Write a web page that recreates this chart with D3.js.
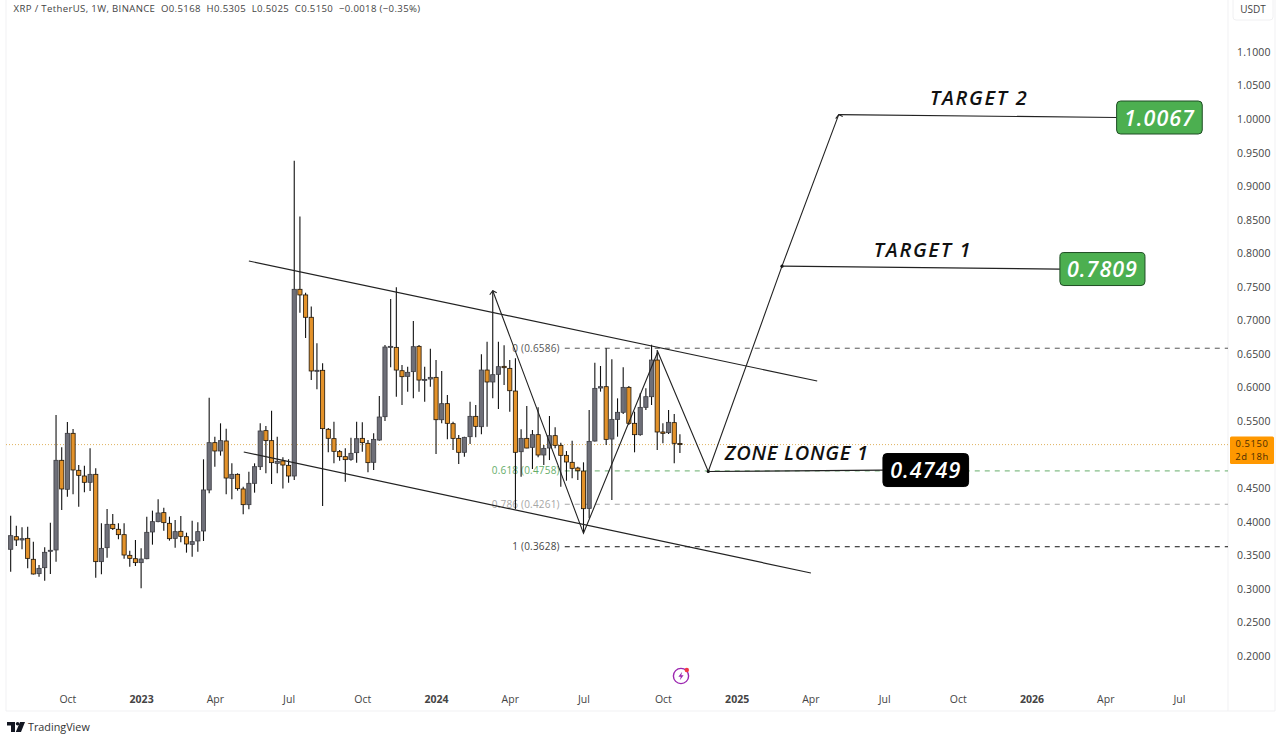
<!DOCTYPE html>
<html>
<head>
<meta charset="utf-8">
<script src="https://d3js.org/d3.v7.min.js"></script>
<style>
  html, body { margin: 0; padding: 0; background: #fff; }
  svg { display: block; }
  text { font-family: "Open Sans", "Noto Sans", sans-serif; }
  .tick line { display: none; }
  .domain { display: none; }
</style>
</head>
<body>
<div id="chart"></div>
<script>
// weekly candles
var opens = [.3590,.3778,.3729,.3753,.3441,.3227,.3316,.3560,.3580,.4916,.4484,.5318,.4767,.4682,.4588,.4707,.3406,.3614,.3962,.3888,
  .3808,.3500,.3450,.3391,.3450,.3848,.4002,.4136,.3977,.3753,.3858,.3778,.3664,.3714,.3863,.4474,.5179,.5055,.5204,.4647,
  .4707,.4489,.4255,.4573,.4821,.5358,.5209,.4871,.4906,.4841,.4682,.7464,.7380,.7047,.6242,.6257,.5378,.5239,.5045,.4970,
  .4930,.5030,.5243,.5169,.4886,.5218,.5566,.6604,.6599,.6251,.6167,.6237,.6614,.6112,.6127,.6152,.5521,.5760,.5462,.5243,
  .5035,.5268,.5571,.5417,.6261,.6083,.6197,.6316,.6286,.5948,.5044,.5243,.5109,.5298,.4995,.5099,.5283,.5139,.4990,.4886,
  .4801,.4756,.4200,.5203,.5993,.6013,.5233,.5526,.5631,.6003,.5467,.5298,.5705,.5864,.6410,.5338,.5328,.5477,.5168];
var closes = [.3793,.3729,.3748,.3455,.3222,.3306,.3545,.3575,.4916,.4489,.5318,.4772,.4692,.4588,.4707,.3406,.3604,.3962,.3898,.3808,
  .3505,.3455,.3391,.3445,.3843,.4002,.4131,.3987,.3748,.3853,.3783,.3669,.3704,.3853,.4474,.5179,.5055,.5209,.4652,.4707,
  .4494,.4255,.4573,.4821,.5353,.5209,.4881,.4901,.4846,.4682,.7464,.7380,.7047,.6247,.6257,.5388,.5244,.5050,.4970,.4926,
  .5020,.5238,.5179,.4881,.5228,.5561,.6604,.6614,.6261,.6162,.6227,.6609,.6112,.6122,.6152,.5521,.5760,.5467,.5243,.5035,
  .5258,.5571,.5422,.6261,.6083,.6192,.6311,.6296,.5953,.5035,.5243,.5099,.5298,.4995,.5094,.5283,.5139,.4990,.4891,.4796,
  .4761,.4195,.5198,.5988,.6013,.5228,.5526,.5631,.6003,.5467,.5298,.5705,.5864,.6410,.5338,.5318,.5482,.5169,.5150];
var highs = [.4091,.3942,.3917,.3927,.3704,.3356,.3619,.3987,.5591,.5109,.5487,.5383,.4846,.4836,.5095,.4796,.3977,.4191,.4116,.3977,
  .3977,.3570,.3729,.3604,.4076,.4166,.4335,.4210,.4076,.4027,.4086,.3838,.4017,.3992,.4931,.5849,.5268,.5467,.5388,.4871,
  .4722,.4523,.4747,.4871,.5467,.5427,.5656,.5268,.4960,.4931,.9381,.8547,.7414,.7206,.6659,.6361,.5398,.5492,.5070,.5095,
  .5253,.5492,.5482,.5218,.5318,.5874,.6634,.7319,.7493,.6336,.6311,.6992,.6634,.6311,.6579,.6410,.6246,.5889,.5492,.5293,
  .5268,.5790,.5740,.6495,.6684,.7444,.6684,.6629,.6410,.6435,.5377,.5725,.5367,.5705,.5144,.5576,.5407,.5179,.5054,.5208,
  .4821,.4886,.5665,.6371,.6321,.6584,.6420,.5839,.6301,.6023,.5641,.5914,.5988,.6639,.6559,.5467,.5665,.5606,.5305];
var lows = [.3257,.3639,.3590,.3306,.3215,.3182,.3123,.3222,.3406,.4176,.4374,.4409,.4225,.4439,.4459,.3167,.3217,.3465,.3878,.3739,
  .3450,.3331,.3341,.3008,.3441,.3659,.3992,.3868,.3719,.3614,.3694,.3540,.3480,.3555,.3714,.4424,.4821,.4985,.4409,.4335,
  .4464,.4111,.4186,.4434,.4772,.4722,.4563,.4722,.4494,.4583,.4623,.7116,.6739,.6113,.5974,.4235,.5035,.4871,.4911,.4598,
  .4910,.4881,.5044,.4737,.4771,.5208,.5501,.6301,.5864,.5740,.5939,.5839,.5939,.5790,.6013,.5010,.5467,.5228,.5069,.4861,
  .4970,.5159,.5258,.5303,.5417,.5839,.5680,.6038,.5641,.4185,.4672,.5094,.4786,.4960,.4846,.4920,.5094,.4523,.4612,.4647,
  .4622,.3828,.4051,.5198,.5939,.5144,.4324,.5268,.5606,.5442,.5035,.5283,.5665,.5740,.5069,.5169,.5308,.4871,.5025];

// 0.5000 sits behind the price tag in the picture, so it is left out
var priceTicks = [1.1,1.05,1,.95,.9,.85,.8,.75,.7,.65,.6,.55,.45,.4,.35,.3,.25,.2];
var weekTicks = [10,23,36,49,62,75,88,101,115,128,141,154,167,180,193,206];
var weekLabels = ["Oct","2023","Apr","Jul","Oct","2024","Apr","Jul","Oct","2025","Apr","Jul","Oct","2026","Apr","Jul"];

var lastPrice = .5150;

// channel lines: week, price
var upperWeeks = [42, 142.2], upperPrices = [.7886, .6098];
var lowerWeeks = [41.1, 141.1], lowerPrices = [.5040, .3237];

// projected zigzag
var zigWeeks = [85, 101, 114.1, 123, 136, 146];
var zigPrices = [.7443, .3828, .6534, .4749, .7809, 1.0067];

// fib retracement
var fibNames = ["0", "0.618", "0.786", "1"];
var fibPrices = [.6586, .4758, .4261, .3628];
var fibColors = ["#555555", "#66ad6a", "#a6a6a6", "#111111"];
var fibStartWeek = 97.7;

// target boxes
var boxTexts = ["1.0067", "0.7809", "0.4749"];
var boxFrom = [146, 136, 123];
var boxStartWeeks = [195, 185, 153.8];
var boxEndWeeks = [210.1, 200, 168.9];
var boxPrices = [1.0024, .7766, .4771];

var noteTexts = ["TARGET 2", "TARGET 1", "ZONE LONGE 1"];
var noteWeeks = [162.1, 152.2, 125.9];
var notePrices = [1.0210, .7945, .4921];

var width = 1280, height = 742;
var plotLeft = 6, plotRight = 1228, plotBottom = 711;

var x = d3.scaleLinear().domain([0, 206]).range([10.67, 1179]);
var y = d3.scaleLinear().domain([1.1, .2]).range([52, 656]);

var svg = d3.select("#chart").append("svg")
  .attr("width", width)
  .attr("height", height);

// frame
svg.append("path")
  .attr("d", "M" + plotLeft + ",0V" + plotBottom + "H1275")
  .attr("fill", "none").attr("stroke", "#f1f1f3");
svg.append("line")
  .attr("x1", plotRight).attr("x2", plotRight)
  .attr("y1", 0).attr("y2", plotBottom)
  .attr("stroke", "#f1f1f3");
svg.append("line")
  .attr("x1", 1275).attr("x2", 1275)
  .attr("y1", 0).attr("y2", plotBottom)
  .attr("stroke", "#f1f1f3");

// last price line
svg.append("line")
  .attr("x1", plotLeft).attr("x2", plotRight)
  .attr("y1", y(lastPrice)).attr("y2", y(lastPrice))
  .attr("stroke", "#e0b25e").attr("stroke-width", 1)
  .attr("stroke-dasharray", "1 2");

// fib levels
fibPrices.forEach(function(p, i) {
  svg.append("line")
    .attr("x1", x(fibStartWeek)).attr("x2", plotRight)
    .attr("y1", y(p)).attr("y2", y(p))
    .attr("stroke", fibColors[i]).attr("stroke-width", 1)
    .attr("stroke-dasharray", "5 5");
  svg.append("text")
    .attr("x", x(fibStartWeek) - 5)
    .attr("y", y(p) + 3.5)
    .attr("text-anchor", "end")
    .attr("font-size", 10)
    .attr("letter-spacing", .2)
    .attr("fill", fibColors[i] == "#111111" ? "#444" : fibColors[i])
    .text(fibNames[i] + " (" + p.toFixed(4) + ")");
});

// candles
var candles = svg.append("g");
opens.forEach(function(o, i) {
  var c = closes[i], up = c >= o;
  candles.append("line")
    .attr("x1", x(i)).attr("x2", x(i))
    .attr("y1", y(highs[i])).attr("y2", y(lows[i]))
    .attr("stroke", "#111").attr("stroke-width", 1.1);
  candles.append("rect")
    .attr("x", x(i) - 2.1)
    .attr("width", 4.2)
    .attr("y", y(Math.max(o, c)))
    .attr("height", Math.max(1, Math.abs(y(o) - y(c))))
    .attr("fill", up ? "#6e6f78" : "#e3922a")
    .attr("stroke", up ? "#3c3c42" : "#1d1408")
    .attr("stroke-width", .8);
});

var line = d3.line()
  .x(function(d) { return x(d[0]); })
  .y(function(d) { return y(d[1]); });

function drawLine(weeks, prices, w) {
  svg.append("path")
    .attr("d", line(weeks.map(function(t, i) { return [t, prices[i]]; })))
    .attr("fill", "none")
    .attr("stroke", "#222")
    .attr("stroke-width", w);
}

drawLine(upperWeeks, upperPrices, 1.2);
drawLine(lowerWeeks, lowerPrices, 1.2);
drawLine(zigWeeks, zigPrices, 1.1);

// arrow ticks on the two peaks, dots on the pivots
[[0, 1], [5, 4]].forEach(function(a) {
  var tx = x(zigWeeks[a[0]]), ty = y(zigPrices[a[0]]);
  svg.append("path")
    .attr("d", "M" + (tx - 3) + "," + (ty + 4) + "L" + tx + "," + ty + "L" + (tx + 4) + "," + (ty + 2))
    .attr("fill", "none").attr("stroke", "#222").attr("stroke-width", 1.1);
});
[3, 4].forEach(function(k) {
  svg.append("circle")
    .attr("cx", x(zigWeeks[k])).attr("cy", y(zigPrices[k]))
    .attr("r", 1.6).attr("fill", "#111");
});

// lines into the boxes and the boxes
boxTexts.forEach(function(t, i) {
  var fromIdx = zigWeeks.indexOf(boxFrom[i]);
  drawLine([zigWeeks[fromIdx], boxStartWeeks[i]], [zigPrices[fromIdx], boxPrices[i]], 1.2);
  var black = t == "0.4749";
  svg.append("rect")
    .attr("x", x(boxStartWeeks[i]))
    .attr("y", y(boxPrices[i]) - 16.5)
    .attr("width", x(boxEndWeeks[i]) - x(boxStartWeeks[i]))
    .attr("height", 33)
    .attr("rx", 4)
    .attr("fill", black ? "#000" : "#4caf50")
    .attr("stroke", black ? "#000" : "#1f4d24");
  svg.append("text")
    .attr("x", (x(boxStartWeeks[i]) + x(boxEndWeeks[i])) / 2)
    .attr("y", y(boxPrices[i]) + 8)
    .attr("text-anchor", "middle")
    .attr("font-size", 21.5)
    .attr("font-style", "italic")
    .attr("font-weight", 600)
    .attr("letter-spacing", 1)
    .attr("fill", "#fff")
    .text(t);
});

noteTexts.forEach(function(t, i) {
  svg.append("text")
    .attr("x", x(noteWeeks[i]))
    .attr("y", y(notePrices[i]))
    .attr("font-size", 20)
    .attr("font-style", "italic")
    .attr("font-weight", 600)
    .attr("letter-spacing", i < 2 ? 1.7 : .75)
    .attr("fill", "#111")
    .text(t);
});

// axes
var yAxis = svg.append("g")
  .attr("transform", "translate(1228,0)")
  .call(d3.axisRight(y).tickValues(priceTicks).tickFormat(d3.format(".4f")).tickSize(0).tickPadding(9));
yAxis.selectAll("text")
  .attr("font-size", 10.5).attr("fill", "#444").attr("letter-spacing", .15);

var xAxis = svg.append("g")
  .attr("transform", "translate(0,696)")
  .call(d3.axisBottom(x).tickValues(weekTicks)
    .tickFormat(function(d, i) { return weekLabels[i]; }).tickSize(0).tickPadding(0));
xAxis.selectAll("text")
  .attr("font-size", 10.5)
  .attr("fill", "#444")
  .attr("font-weight", function(d, i) { return /^\d/.test(weekLabels[i]) ? 700 : 400; });

// USDT button
svg.append("rect")
  .attr("x", 1233).attr("y", -4).attr("width", 40).attr("height", 24).attr("rx", 3)
  .attr("fill", "#fff").attr("stroke", "#f0f0f2");
svg.append("text")
  .attr("x", 1253).attr("y", 13).attr("text-anchor", "middle")
  .attr("font-size", 10).attr("fill", "#444").text("USDT");

// price tag
svg.append("rect")
  .attr("x", 1230).attr("y", y(lastPrice) - 8)
  .attr("width", 44).attr("height", 27.5).attr("rx", 1.5)
  .attr("fill", "#ff9800");
svg.append("text")
  .attr("x", 1252).attr("y", y(lastPrice) + 2.8).attr("text-anchor", "middle")
  .attr("font-size", 9.4).attr("letter-spacing", .6).attr("fill", "#4a2c00")
  .text(lastPrice.toFixed(4));
svg.append("text")
  .attr("x", 1252).attr("y", y(lastPrice) + 15.8).attr("text-anchor", "middle")
  .attr("font-size", 9.4).attr("letter-spacing", .6).attr("fill", "#4a2c00")
  .text("2d 18h");

// header
svg.append("text")
  .attr("x", 13.5).attr("y", 11.5)
  .attr("font-size", 9.6)
  .attr("letter-spacing", .35)
  .attr("fill", "#444")
  .style("white-space", "pre")
  .text("XRP / TetherUS, 1W, BINANCE  O0.5168  H0.5305  L0.5025  C0.5150  \u22120.0018 (\u22120.35%)");

// lightning badge
var badge = svg.append("g").attr("transform", "translate(681,676)");
badge.append("circle").attr("r", 7.6).attr("fill", "#fff").attr("stroke", "#9c27b0").attr("stroke-width", 1.4);
badge.append("path").attr("d", "M1.2,-4.2L-2.6,0.8H-0.2L-1.2,4.2L2.6,-0.8H0.2Z").attr("fill", "#9c27b0");
badge.append("circle").attr("cx", 5.8).attr("cy", -6).attr("r", 2.2).attr("fill", "#f23645");

// TradingView logo
var logo = svg.append("g").attr("transform", "translate(7,722)");
logo.append("path").attr("d", "M0,0H8V10H4V3.4H0Z").attr("fill", "#131722");
logo.append("circle").attr("cx", 10.6).attr("cy", 1.8).attr("r", 1.8).attr("fill", "#131722");
logo.append("path").attr("d", "M13,0H18L14,10H8.8Z").attr("fill", "#131722");
svg.append("text")
  .attr("x", 28).attr("y", 731)
  .attr("font-size", 10.8).attr("fill", "#333")
  .text("TradingView");
</script>
</body>
</html>
